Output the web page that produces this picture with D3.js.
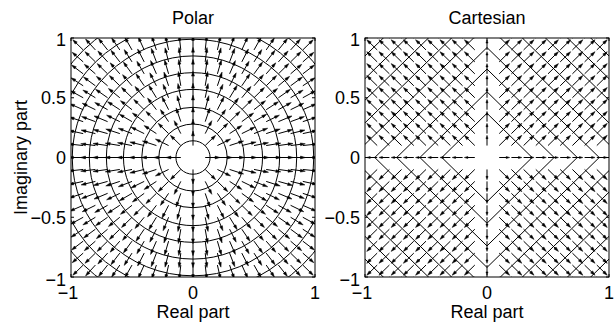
<!DOCTYPE html>
<html>
<head>
<meta charset="utf-8">
<script src="https://cdn.jsdelivr.net/npm/d3@7"></script>
<style>
  body { margin: 0; background: #fff; }
  svg text { font-family: "Liberation Sans", Arial, Helvetica, sans-serif; fill: #000; }
</style>
</head>
<body>
<svg id="chart" width="616" height="322"></svg>
<script>
// grid of arrow positions (same on both axes)
const gridValues = [-1, -0.9, -0.8, -0.7, -0.6, -0.5, -0.4, -0.3, -0.2, -0.1, 0,
  0.1, 0.2, 0.3, 0.4, 0.5, 0.6, 0.7, 0.8, 0.9, 1];
const xTickValues = [-1, 0, 1];
const xTickLabels = ["\u22121", "0", "1"];
const yTickValues = [-1, -0.5, 0, 0.5, 1];
const yTickLabels = ["\u22121", "\u22120.5", "0", "0.5", "1"];
const panelTitles = ["Polar", "Cartesian"];
// contour levels
const polarLevels = [0.14, 0.28, 0.42, 0.57, 0.71, 0.85, 0.99, 1.13, 1.27];
const cartesianLevels = [0.37, 0.55, 0.74, 0.92, 1.11, 1.29, 1.48, 1.66, 1.85];
const xLabel = "Real part";
const yLabel = "Imaginary part";

// direction fields: gradient of |z| and of |Re z| + |Im z|
function polarDir(x, y) {
  const r = Math.hypot(x, y);
  return r === 0 ? [0, 0] : [x / r, y / r];
}
function cartesianDir(x, y) {
  return [Math.sign(x), Math.sign(y)];
}

const svg = d3.select("#chart");
const plotTop = 38, plotBottom = 277;
const panelLeft = [71, 365];
const panelW = 244;

const maxLen = 0.9 * Math.SQRT2 * (2 / gridValues.length);

panelTitles.forEach((title, pi) => {
  const x = d3.scaleLinear().domain([-1, 1]).range([panelLeft[pi], panelLeft[pi] + panelW]);
  const y = d3.scaleLinear().domain([-1, 1]).range([plotBottom, plotTop]);
  const g = svg.append("g");

  const clipId = "clip" + pi;
  svg.append("clipPath").attr("id", clipId)
    .append("rect")
    .attr("x", x(-1)).attr("y", y(1))
    .attr("width", x(1) - x(-1)).attr("height", y(-1) - y(1));

  const plot = g.append("g").attr("clip-path", `url(#${clipId})`);

  // contours
  if (pi === 0) {
    plot.selectAll("ellipse").data(polarLevels).enter().append("ellipse")
      .attr("cx", x(0)).attr("cy", y(0))
      .attr("rx", d => x(d) - x(0)).attr("ry", d => y(0) - y(d))
      .attr("fill", "none").attr("stroke", "#000").attr("stroke-width", 1);
  } else {
    plot.selectAll("path.lvl").data(cartesianLevels).enter().append("path")
      .attr("class", "lvl")
      .attr("d", d => `M${x(d)},${y(0)}L${x(0)},${y(d)}L${x(-d)},${y(0)}L${x(0)},${y(-d)}Z`)
      .attr("fill", "none").attr("stroke", "#000").attr("stroke-width", 1);
  }

  // quiver
  const dirFn = pi === 0 ? polarDir : cartesianDir;
  const pts = [];
  gridValues.forEach(gx => gridValues.forEach(gy => {
    const [u, v] = dirFn(gx, gy);
    if (u !== 0 || v !== 0) pts.push({ gx, gy, u, v });
  }));
  const maxMag = d3.max(pts, d => Math.hypot(d.u, d.v));
  const s = maxLen / maxMag;
  const alpha = 0.33, beta = 0.3;
  const arrows = plot.selectAll("g.arrow").data(pts).enter().append("g").attr("class", "arrow");
  arrows.append("path")
    .attr("d", d => {
      const u = d.u * s, v = d.v * s;
      return `M${x(d.gx)},${y(d.gy)}L${x(d.gx + u * (1 - alpha * 0.6))},${y(d.gy + v * (1 - alpha * 0.6))}`;
    })
    .attr("fill", "none").attr("stroke", "#000").attr("stroke-width", 1);
  arrows.append("path")
    .attr("d", d => {
      const u = d.u * s, v = d.v * s;
      const tx = d.gx + u, ty = d.gy + v;
      const h1x = tx - alpha * (u + beta * v), h1y = ty - alpha * (v - beta * u);
      const h2x = tx - alpha * (u - beta * v), h2y = ty - alpha * (v + beta * u);
      return `M${x(h1x)},${y(h1y)}L${x(tx)},${y(ty)}L${x(h2x)},${y(h2y)}Z`;
    })
    .attr("fill", "#000").attr("stroke", "#000").attr("stroke-width", 0.5);

  // box and ticks
  g.append("rect")
    .attr("x", x(-1)).attr("y", y(1))
    .attr("width", x(1) - x(-1)).attr("height", y(-1) - y(1))
    .attr("fill", "none").attr("stroke", "#000").attr("stroke-width", 1);
  const tl = 3;
  xTickValues.forEach(t => {
    g.append("path").attr("d", `M${x(t)},${y(-1)}v${-tl}M${x(t)},${y(1)}v${tl}`)
      .attr("stroke", "#000").attr("stroke-width", 1);
  });
  yTickValues.forEach(t => {
    g.append("path").attr("d", `M${x(-1)},${y(t)}h${tl}M${x(1)},${y(t)}h${-tl}`)
      .attr("stroke", "#000").attr("stroke-width", 1);
  });

  g.selectAll("text.xt").data(xTickValues).enter().append("text")
    .attr("class", "xt")
    .attr("x", d => x(d) - (d < 0 ? 3 : 0)).attr("y", 299)
    .attr("text-anchor", "middle").attr("font-size", 18)
    .text((d, i) => xTickLabels[i]);
  g.selectAll("text.yt").data(yTickValues).enter().append("text")
    .attr("class", "yt")
    .attr("x", x(-1) - 5)
    .attr("y", d => y(d) + 6.5 + (d === 1 ? 1 : d === -1 ? 2.5 : 0))
    .attr("text-anchor", "end").attr("font-size", 18)
    .text((d, i) => yTickLabels[i]);

  g.append("text")
    .attr("x", x(0)).attr("y", 24)
    .attr("text-anchor", "middle").attr("font-size", 18)
    .text(title);
  g.append("text")
    .attr("x", x(0)).attr("y", 318)
    .attr("text-anchor", "middle").attr("font-size", 18)
    .text(xLabel);
  if (pi === 0) {
    g.append("text")
      .attr("transform", `translate(27,${y(0)}) rotate(-90)`)
      .attr("text-anchor", "middle").attr("font-size", 18)
      .text(yLabel);
  }
});
</script>
</body>
</html>
